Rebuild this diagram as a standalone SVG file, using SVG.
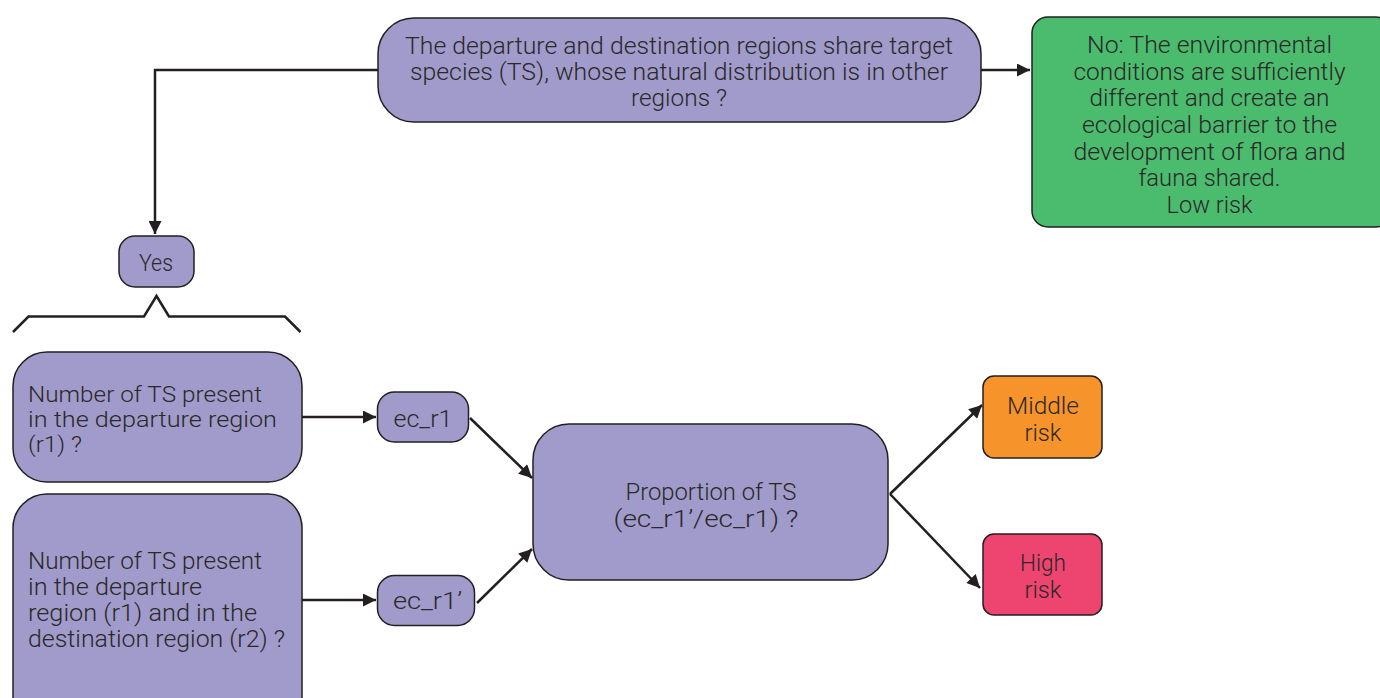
<svg xmlns="http://www.w3.org/2000/svg" width="1380" height="698" viewBox="0 0 1380 698">
<style>
.n{stroke:#231f20;stroke-width:1.5}
.p{fill:#a09bca}
.g{fill:#4bbb6e}
.o{fill:#f6932b}
.r{fill:#ee4470}
text{font-family:Roboto,"Liberation Sans",sans-serif;font-weight:300;font-size:24px;fill:#2a2828}
.s{font-size:22.5px}
.c{text-anchor:middle}
.e{fill:none;stroke:#231f20;stroke-width:2.5}
</style>
<defs>
<marker id="ah" viewBox="0 0 10 10" refX="10" refY="5" markerWidth="7.4" markerHeight="5.2" markerUnits="strokeWidth" orient="auto">
<path d="M0,0 L10,5 L0,10 z" fill="#231f20"/>
</marker>
</defs>
<rect width="1380" height="698" fill="#fff"/>
<g id="connectors">
<path class="e" d="M378,70 H155 V234" marker-end="url(#ah)"/>
<path class="e" d="M981,70 H1030" marker-end="url(#ah)"/>
<path class="e" d="M302,417 H376" marker-end="url(#ah)"/>
<path class="e" d="M302,600 H376" marker-end="url(#ah)"/>
<path class="e" d="M470,418 L532,478" marker-end="url(#ah)"/>
<path class="e" d="M477,603 L532,549" marker-end="url(#ah)"/>
<path class="e" d="M890,494 L982,405" marker-end="url(#ah)"/>
<path class="e" d="M890,494 L980,588" marker-end="url(#ah)"/>
<path class="e" d="M13,332 L28.5,316.5 H144 L156.5,296 L169,316.5 H285 L300.5,332" stroke-linejoin="miter"/>
</g>
<g id="question">
<rect class="n p" x="378" y="18" width="603" height="104" rx="36"/>
<text class="c" x="679" y="54" textLength="548" lengthAdjust="spacingAndGlyphs">The departure and destination regions share target</text>
<text class="c" x="679" y="80" textLength="538" lengthAdjust="spacingAndGlyphs">species (TS), whose natural distribution is in other</text>
<text class="c" x="679" y="106" textLength="96" lengthAdjust="spacingAndGlyphs">regions ?</text>
</g>
<g id="no">
<rect class="n g" x="1032" y="17" width="360" height="210" rx="16"/>
<text class="c" x="1209.5" y="53" textLength="245" lengthAdjust="spacingAndGlyphs">No: The environmental</text>
<text class="c" x="1209.5" y="79.7" textLength="272" lengthAdjust="spacingAndGlyphs">conditions are sufficiently</text>
<text class="c" x="1209.5" y="106.3" textLength="240" lengthAdjust="spacingAndGlyphs">different and create an</text>
<text class="c" x="1209.5" y="133" textLength="255" lengthAdjust="spacingAndGlyphs">ecological barrier to the</text>
<text class="c" x="1209.5" y="159.7" textLength="272" lengthAdjust="spacingAndGlyphs">development of flora and</text>
<text class="c" x="1209.5" y="186.3" textLength="142" lengthAdjust="spacingAndGlyphs">fauna shared.</text>
<text class="c" x="1209.5" y="213" textLength="86" lengthAdjust="spacingAndGlyphs">Low risk</text>
</g>
<g id="yes">
<rect class="n p" x="119" y="236" width="75" height="51" rx="16"/>
<text class="c" x="156" y="271" textLength="34" lengthAdjust="spacingAndGlyphs">Yes</text>
</g>
<g id="q-r1">
<rect class="n p" x="13" y="352" width="289" height="130" rx="34"/>
<text class="s" x="28" y="401.5" textLength="234" lengthAdjust="spacingAndGlyphs">Number of TS present</text>
<text class="s" x="28" y="426.5" textLength="249" lengthAdjust="spacingAndGlyphs">in the departure region</text>
<text class="s" x="28" y="452" textLength="54" lengthAdjust="spacingAndGlyphs">(r1) ?</text>
</g>
<g id="q-r1r2">
<rect class="n p" x="13" y="494" width="289" height="240" rx="34"/>
<text x="28" y="569" textLength="234" lengthAdjust="spacingAndGlyphs">Number of TS present</text>
<text x="28" y="594.5" textLength="174" lengthAdjust="spacingAndGlyphs">in the departure</text>
<text x="28" y="620.5" textLength="229" lengthAdjust="spacingAndGlyphs">region (r1) and in the</text>
<text x="28" y="646.5" textLength="257" lengthAdjust="spacingAndGlyphs">destination region (r2) ?</text>
</g>
<g id="ec-r1">
<rect class="n p" x="377.5" y="392" width="91" height="50" rx="17"/>
<text class="c" x="423" y="427" textLength="59" lengthAdjust="spacingAndGlyphs">ec_r1</text>
</g>
<g id="ec-r1p">
<rect class="n p" x="377.5" y="575.5" width="97" height="50" rx="17"/>
<text class="c" x="427.5" y="609" textLength="69" lengthAdjust="spacingAndGlyphs">ec_r1’</text>
</g>
<g id="proportion">
<rect class="n p" x="533" y="424" width="355" height="156" rx="36"/>
<text class="c" x="711" y="500" textLength="171" lengthAdjust="spacingAndGlyphs">Proportion of TS</text>
<text class="c" x="706" y="527" textLength="185" lengthAdjust="spacingAndGlyphs">(ec_r1’/ec_r1) ?</text>
</g>
<g id="middle">
<rect class="n o" x="983" y="376" width="119" height="82" rx="11"/>
<text class="c" x="1043" y="414" textLength="72" lengthAdjust="spacingAndGlyphs">Middle</text>
<text class="c" x="1043" y="441" textLength="37" lengthAdjust="spacingAndGlyphs">risk</text>
</g>
<g id="high">
<rect class="n r" x="983" y="534" width="119" height="81" rx="11"/>
<text class="c" x="1043" y="571" textLength="46" lengthAdjust="spacingAndGlyphs">High</text>
<text class="c" x="1043" y="598" textLength="37" lengthAdjust="spacingAndGlyphs">risk</text>
</g>
</svg>
